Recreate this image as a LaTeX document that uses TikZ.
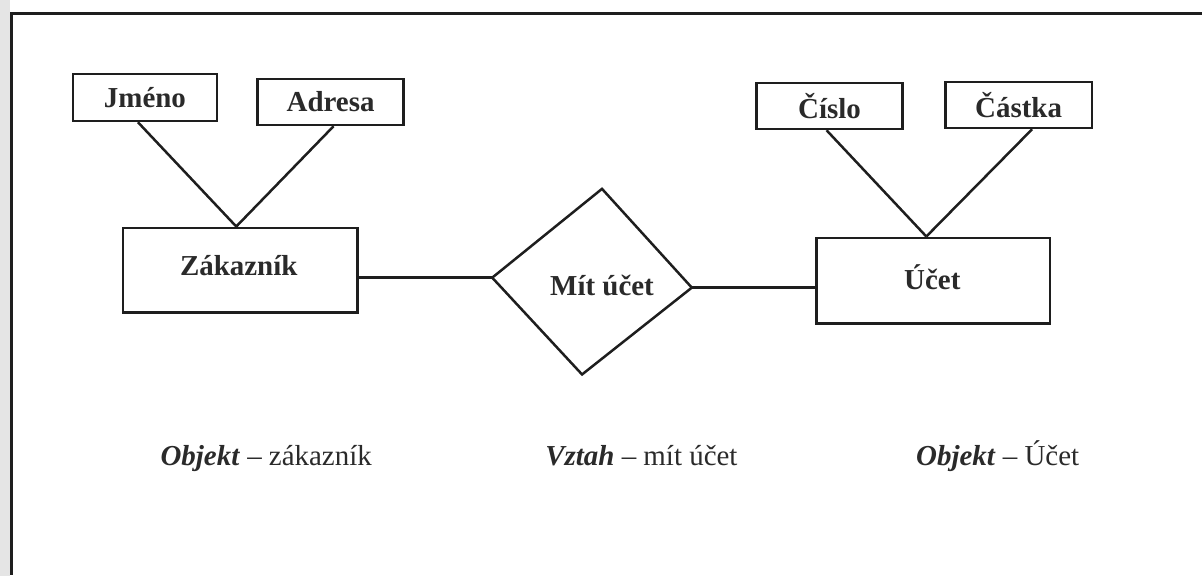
\documentclass[tikz,border=0pt]{standalone}
\usepackage{fontspec}
\setmainfont{Liberation Serif}
\usetikzlibrary{calc}
\definecolor{ink}{HTML}{1E1E1E}
\definecolor{txt}{HTML}{2A2A2A}
\begin{document}
\begin{tikzpicture}[x=0.4pt,y=-0.4pt,
  every path/.style={line width=1pt, draw=ink},
  attr/.style={draw=ink, line width=1pt, inner sep=0pt, text=txt,
    font=\bfseries\fontsize{11.6}{14}\selectfont},
  caption/.style={inner sep=0pt, anchor=base, text=txt,
    font=\fontsize{11.6}{14}\selectfont},
  conn/.style={draw=ink, line width=1pt}]
\useasboundingbox (0,0) rectangle (1203,575);
\fill[white] (0,0) rectangle (1203,575);
\fill[black!10] (0,0) rectangle (8,575);
% frame
\coordinate (ftr) at (1203,12);
\coordinate (ftl) at (10,12);
\coordinate (fbl) at (10,575);
\draw[line width=1.2pt] (ftr) -- (ftl) -- (fbl);
% entity and attribute boxes
\node[attr, minimum width=57.6pt, minimum height=18.8pt] (jmeno) at (144,96.5) {Jméno};
\node[attr, minimum width=58.4pt, minimum height=18.4pt] (adresa) at (330,101) {Adresa};
\node[attr, minimum width=94pt, minimum height=34pt] (zak) at (239.5,269.5) {};
\node[text=txt, font=\bfseries\fontsize{11.6}{14}\selectfont, inner sep=0pt] (zaktext) at (238,265) {Zákazník};
\node[attr, minimum width=58.4pt, minimum height=18.4pt] (cislo) at (830,105) {Číslo};
\node[attr, minimum width=58.8pt, minimum height=18.4pt] (castka) at (1019.5,104) {Částka};
\node[attr, minimum width=93.6pt, minimum height=34.4pt] (uct) at (934,280) {};
\node[text=txt, font=\bfseries\fontsize{11.6}{14}\selectfont, inner sep=0pt] (ucttext) at (933,277) {Účet};
% relationship diamond
\coordinate (dl) at (492,277);
\coordinate (dt) at (602,188);
\coordinate (dr) at (692,287);
\coordinate (db) at (582,374);
\draw[conn, line join=miter] (dl) -- (dt) -- (dr) -- (db) -- cycle;
\node[text=txt, font=\bfseries\fontsize{11.6}{14}\selectfont, inner sep=0pt] (mit) at (602,285) {Mít účet};
% connectors
\draw[conn] ($(jmeno.south)+(-7,0)$) -- ($(zak.north)+(-4,0)$);
\draw[conn] ($(adresa.south)+(3,0)$) -- ($(zak.north)+(-4,0)$);
\draw[conn] ($(cislo.south)+(-3,0)$) -- ($(uct.north)+(-7,0)$);
\draw[conn] ($(castka.south)+(13.5,0)$) -- ($(uct.north)+(-7,0)$);
\draw[conn] (dl) -- (dl -| zak.east);
\draw[conn] (dr) -- (dr -| uct.west);
% captions
\node[caption] (c1) at (265.5,465) {\textbf{\textit{Objekt}} – zákazník};
\node[caption] (c2) at (641.5,465) {\textbf{\textit{Vztah}} – mít účet};
\node[caption] (c3) at (998.5,465) {\textbf{\textit{Objekt}} – Účet};
\end{tikzpicture}
\end{document}
